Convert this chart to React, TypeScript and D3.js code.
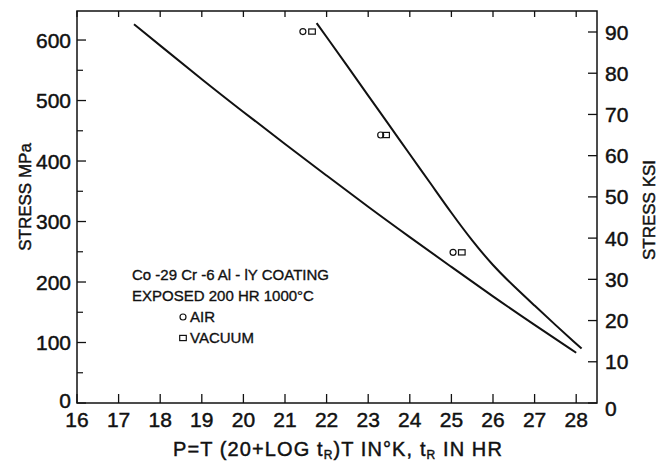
import React from "react";
import * as d3 from "d3";

const xTicks = [16, 17, 18, 19, 20, 21, 22, 23, 24, 25, 26, 27, 28];
const mpaTicks = [0, 100, 200, 300, 400, 500, 600];
const mpaMinor = [50, 150, 250, 350, 450, 550];
const ksiTicks = [0, 10, 20, 30, 40, 50, 60, 70, 80, 90];

const upperP = [21.76, 22, 22.5, 23, 23.5, 24, 24.5, 25, 25.5, 26, 26.5, 27, 27.5, 28, 28.13];
const upperMPa = [628, 605, 557, 508, 460, 411, 363, 314, 268, 227, 193, 161, 129, 98, 90];

const lowerP = [17.37, 18, 19, 20, 21, 22, 23, 24, 25, 26, 27, 28];
const lowerMPa = [626, 591, 535, 481, 428, 376, 324, 274, 225, 176, 129, 83];

const airP = [21.43, 23.3, 25.04];
const airMPa = [614, 443, 249];
const vacP = [21.65, 23.43, 25.25];
const vacMPa = [614, 443, 249];

const FONT = "'Liberation Sans', Arial, sans-serif";
const INK = "#111";

export default function App() {
  const L = 77, R = 597, T = 11, B = 403;
  const x = d3.scaleLinear().domain([16, 28.5]).range([L, R]);
  const y = d3.scaleLinear().domain([0, 648]).range([B, T]);
  const yk = d3.scaleLinear().domain([0, 90]).range([B, 32]);

  const line = d3
    .line<[number, number]>()
    .x((d) => x(d[0]))
    .y((d) => y(d[1]))
    .curve(d3.curveBasis);

  const upper = line(upperP.map((p, i) => [p, upperMPa[i]] as [number, number])) || "";
  const lower = line(lowerP.map((p, i) => [p, lowerMPa[i]] as [number, number])) || "";

  const txt = { fill: INK, stroke: INK, strokeWidth: 0.45 };

  return (
    <svg
      width={668}
      height={461}
      style={{ position: "absolute", left: 0, top: 0, background: "#fff" }}
      fontFamily={FONT}
    >
      <rect x={0} y={0} width={668} height={461} fill="#fff" />
      <rect x={L} y={T} width={R - L} height={B - T} fill="none" stroke={INK} strokeWidth={1.5} />

      {xTicks.map((t) => (
        <g key={"x" + t}>
          <line x1={x(t)} x2={x(t)} y1={B} y2={B - 9} stroke={INK} strokeWidth={1.3} />
          <line x1={x(t)} x2={x(t)} y1={T} y2={T + 6} stroke={INK} strokeWidth={1.3} />
          <text x={x(t)} y={427} fontSize={21} textAnchor="middle" {...txt}>
            {t}
          </text>
        </g>
      ))}

      {mpaTicks.map((t) => (
        <g key={"m" + t}>
          <line x1={L} x2={L + 9} y1={y(t)} y2={y(t)} stroke={INK} strokeWidth={1.3} />
          <text x={71} y={y(t) - (t === 0 ? 3 : 0)} dy="0.36em" fontSize={21} textAnchor="end" {...txt}>
            {t}
          </text>
        </g>
      ))}
      {mpaMinor.map((t) => (
        <line key={"mm" + t} x1={L} x2={L + 6} y1={y(t)} y2={y(t)} stroke={INK} strokeWidth={1.2} />
      ))}

      {ksiTicks.map((t) => (
        <g key={"k" + t}>
          <line x1={R} x2={R - 9} y1={yk(t)} y2={yk(t)} stroke={INK} strokeWidth={1.3} />
          <text x={605} y={yk(t) + (t === 0 ? 5 : 0)} dy="0.36em" fontSize={21} textAnchor="start" {...txt}>
            {t}
          </text>
        </g>
      ))}

      <path d={upper} fill="none" stroke={INK} strokeWidth={2} />
      <path d={lower} fill="none" stroke={INK} strokeWidth={2} />

      {airP.map((p, i) => (
        <circle key={"a" + i} cx={x(p)} cy={y(airMPa[i])} r={3} fill="none" stroke={INK} strokeWidth={1.2} />
      ))}
      {vacP.map((p, i) => (
        <rect
          key={"v" + i}
          x={x(p) - 3.3}
          y={y(vacMPa[i]) - 2.6}
          width={6.6}
          height={5.2}
          fill="none"
          stroke={INK}
          strokeWidth={1.2}
        />
      ))}

      <text x={132} y={280} fontSize={15} {...txt} strokeWidth={0.35}>
        Co -29 Cr -6 Al - lY COATING
      </text>
      <text x={132} y={301} fontSize={15} {...txt} strokeWidth={0.35}>
        EXPOSED 200 HR 1000°C
      </text>
      <circle cx={183} cy={317} r={3} fill="none" stroke={INK} strokeWidth={1.2} />
      <text x={190} y={322} fontSize={15} {...txt} strokeWidth={0.35}>
        AIR
      </text>
      <rect x={179.7} y={335.4} width={6.6} height={5.2} fill="none" stroke={INK} strokeWidth={1.2} />
      <text x={190} y={343} fontSize={15} {...txt} strokeWidth={0.35}>
        VACUUM
      </text>

      <text transform={`translate(31,197) rotate(-90)`} fontSize={17} textAnchor="middle" {...txt}>
        STRESS MPa
      </text>
      <text transform={`translate(655,210) rotate(-90)`} fontSize={17} textAnchor="middle" {...txt}>
        STRESS KSI
      </text>
      <text x={173} y={456} fontSize={20} letterSpacing={1.1} {...txt}>
        P=T (20+LOG t
        <tspan fontSize={12} dy={3}>R</tspan>
        <tspan dy={-3}>)T IN°K, t</tspan>
        <tspan fontSize={12} dy={3}>R</tspan>
        <tspan dy={-3}> IN HR</tspan>
      </text>
    </svg>
  );
}
